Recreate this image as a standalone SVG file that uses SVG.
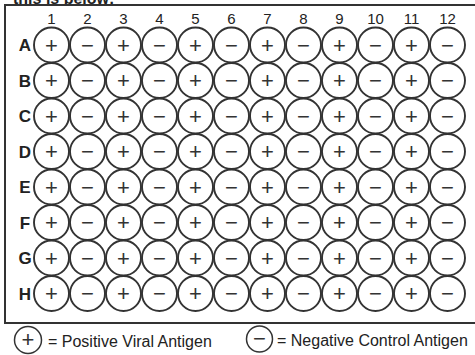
<svg xmlns="http://www.w3.org/2000/svg" width="475" height="355" viewBox="0 0 475 355">
<style>
.w{fill:#fff;stroke:#333;stroke-width:1.9}
.s{font-family:"Liberation Sans",Arial,sans-serif;font-size:22px;fill:#333;text-anchor:middle}
.col{font-family:"Liberation Sans",Arial,sans-serif;font-size:15px;fill:#222;text-anchor:middle}
.row{font-family:"Liberation Sans",Arial,sans-serif;font-size:17px;font-weight:bold;fill:#222;text-anchor:middle}
.lg{font-family:"Liberation Sans",Arial,sans-serif;font-size:16px;fill:#222}
.lc{fill:#fff;stroke:#333;stroke-width:1.5}
</style>
<rect width="475" height="355" fill="#fff"/>
<text x="13" y="4" font-family="Liberation Sans, Arial, sans-serif" font-size="16" font-weight="bold" fill="#222">this is below:</text>
<rect x="5" y="5" width="472" height="318" fill="none" stroke="#333" stroke-width="2"/>
<g id="col-labels">
<text class="col" x="51.5" y="24">1</text><text class="col" x="87.5" y="24">2</text><text class="col" x="123.5" y="24">3</text><text class="col" x="159.5" y="24">4</text><text class="col" x="195.5" y="24">5</text><text class="col" x="231.5" y="24">6</text><text class="col" x="267.5" y="24">7</text><text class="col" x="303.5" y="24">8</text><text class="col" x="339.5" y="24">9</text><text class="col" x="375.5" y="24">10</text><text class="col" x="411.5" y="24">11</text><text class="col" x="447.5" y="24">12</text>
</g>
<g id="row-labels">
<text class="row" x="25" y="51">A</text><text class="row" x="25" y="86.5">B</text><text class="row" x="25" y="122">C</text><text class="row" x="25" y="157.5">D</text><text class="row" x="25" y="193">E</text><text class="row" x="25" y="228.5">F</text><text class="row" x="25" y="264">G</text><text class="row" x="25" y="299.5">H</text>
</g>
<g id="wells">
<g id="A1"><circle class="w" cx="51.5" cy="45" r="17.5"/><text class="s" x="51.5" y="52.5">+</text></g>
<g id="A2"><circle class="w" cx="87.5" cy="45" r="17.5"/><text class="s" x="87.5" y="52.5">−</text></g>
<g id="A3"><circle class="w" cx="123.5" cy="45" r="17.5"/><text class="s" x="123.5" y="52.5">+</text></g>
<g id="A4"><circle class="w" cx="159.5" cy="45" r="17.5"/><text class="s" x="159.5" y="52.5">−</text></g>
<g id="A5"><circle class="w" cx="195.5" cy="45" r="17.5"/><text class="s" x="195.5" y="52.5">+</text></g>
<g id="A6"><circle class="w" cx="231.5" cy="45" r="17.5"/><text class="s" x="231.5" y="52.5">−</text></g>
<g id="A7"><circle class="w" cx="267.5" cy="45" r="17.5"/><text class="s" x="267.5" y="52.5">+</text></g>
<g id="A8"><circle class="w" cx="303.5" cy="45" r="17.5"/><text class="s" x="303.5" y="52.5">−</text></g>
<g id="A9"><circle class="w" cx="339.5" cy="45" r="17.5"/><text class="s" x="339.5" y="52.5">+</text></g>
<g id="A10"><circle class="w" cx="375.5" cy="45" r="17.5"/><text class="s" x="375.5" y="52.5">−</text></g>
<g id="A11"><circle class="w" cx="411.5" cy="45" r="17.5"/><text class="s" x="411.5" y="52.5">+</text></g>
<g id="A12"><circle class="w" cx="447.5" cy="45" r="17.5"/><text class="s" x="447.5" y="52.5">−</text></g>
<g id="B1"><circle class="w" cx="51.5" cy="80.5" r="17.5"/><text class="s" x="51.5" y="88">+</text></g>
<g id="B2"><circle class="w" cx="87.5" cy="80.5" r="17.5"/><text class="s" x="87.5" y="88">−</text></g>
<g id="B3"><circle class="w" cx="123.5" cy="80.5" r="17.5"/><text class="s" x="123.5" y="88">+</text></g>
<g id="B4"><circle class="w" cx="159.5" cy="80.5" r="17.5"/><text class="s" x="159.5" y="88">−</text></g>
<g id="B5"><circle class="w" cx="195.5" cy="80.5" r="17.5"/><text class="s" x="195.5" y="88">+</text></g>
<g id="B6"><circle class="w" cx="231.5" cy="80.5" r="17.5"/><text class="s" x="231.5" y="88">−</text></g>
<g id="B7"><circle class="w" cx="267.5" cy="80.5" r="17.5"/><text class="s" x="267.5" y="88">+</text></g>
<g id="B8"><circle class="w" cx="303.5" cy="80.5" r="17.5"/><text class="s" x="303.5" y="88">−</text></g>
<g id="B9"><circle class="w" cx="339.5" cy="80.5" r="17.5"/><text class="s" x="339.5" y="88">+</text></g>
<g id="B10"><circle class="w" cx="375.5" cy="80.5" r="17.5"/><text class="s" x="375.5" y="88">−</text></g>
<g id="B11"><circle class="w" cx="411.5" cy="80.5" r="17.5"/><text class="s" x="411.5" y="88">+</text></g>
<g id="B12"><circle class="w" cx="447.5" cy="80.5" r="17.5"/><text class="s" x="447.5" y="88">−</text></g>
<g id="C1"><circle class="w" cx="51.5" cy="116" r="17.5"/><text class="s" x="51.5" y="123.5">+</text></g>
<g id="C2"><circle class="w" cx="87.5" cy="116" r="17.5"/><text class="s" x="87.5" y="123.5">−</text></g>
<g id="C3"><circle class="w" cx="123.5" cy="116" r="17.5"/><text class="s" x="123.5" y="123.5">+</text></g>
<g id="C4"><circle class="w" cx="159.5" cy="116" r="17.5"/><text class="s" x="159.5" y="123.5">−</text></g>
<g id="C5"><circle class="w" cx="195.5" cy="116" r="17.5"/><text class="s" x="195.5" y="123.5">+</text></g>
<g id="C6"><circle class="w" cx="231.5" cy="116" r="17.5"/><text class="s" x="231.5" y="123.5">−</text></g>
<g id="C7"><circle class="w" cx="267.5" cy="116" r="17.5"/><text class="s" x="267.5" y="123.5">+</text></g>
<g id="C8"><circle class="w" cx="303.5" cy="116" r="17.5"/><text class="s" x="303.5" y="123.5">−</text></g>
<g id="C9"><circle class="w" cx="339.5" cy="116" r="17.5"/><text class="s" x="339.5" y="123.5">+</text></g>
<g id="C10"><circle class="w" cx="375.5" cy="116" r="17.5"/><text class="s" x="375.5" y="123.5">−</text></g>
<g id="C11"><circle class="w" cx="411.5" cy="116" r="17.5"/><text class="s" x="411.5" y="123.5">+</text></g>
<g id="C12"><circle class="w" cx="447.5" cy="116" r="17.5"/><text class="s" x="447.5" y="123.5">−</text></g>
<g id="D1"><circle class="w" cx="51.5" cy="151.5" r="17.5"/><text class="s" x="51.5" y="159">+</text></g>
<g id="D2"><circle class="w" cx="87.5" cy="151.5" r="17.5"/><text class="s" x="87.5" y="159">−</text></g>
<g id="D3"><circle class="w" cx="123.5" cy="151.5" r="17.5"/><text class="s" x="123.5" y="159">+</text></g>
<g id="D4"><circle class="w" cx="159.5" cy="151.5" r="17.5"/><text class="s" x="159.5" y="159">−</text></g>
<g id="D5"><circle class="w" cx="195.5" cy="151.5" r="17.5"/><text class="s" x="195.5" y="159">+</text></g>
<g id="D6"><circle class="w" cx="231.5" cy="151.5" r="17.5"/><text class="s" x="231.5" y="159">−</text></g>
<g id="D7"><circle class="w" cx="267.5" cy="151.5" r="17.5"/><text class="s" x="267.5" y="159">+</text></g>
<g id="D8"><circle class="w" cx="303.5" cy="151.5" r="17.5"/><text class="s" x="303.5" y="159">−</text></g>
<g id="D9"><circle class="w" cx="339.5" cy="151.5" r="17.5"/><text class="s" x="339.5" y="159">+</text></g>
<g id="D10"><circle class="w" cx="375.5" cy="151.5" r="17.5"/><text class="s" x="375.5" y="159">−</text></g>
<g id="D11"><circle class="w" cx="411.5" cy="151.5" r="17.5"/><text class="s" x="411.5" y="159">+</text></g>
<g id="D12"><circle class="w" cx="447.5" cy="151.5" r="17.5"/><text class="s" x="447.5" y="159">−</text></g>
<g id="E1"><circle class="w" cx="51.5" cy="187" r="17.5"/><text class="s" x="51.5" y="194.5">+</text></g>
<g id="E2"><circle class="w" cx="87.5" cy="187" r="17.5"/><text class="s" x="87.5" y="194.5">−</text></g>
<g id="E3"><circle class="w" cx="123.5" cy="187" r="17.5"/><text class="s" x="123.5" y="194.5">+</text></g>
<g id="E4"><circle class="w" cx="159.5" cy="187" r="17.5"/><text class="s" x="159.5" y="194.5">−</text></g>
<g id="E5"><circle class="w" cx="195.5" cy="187" r="17.5"/><text class="s" x="195.5" y="194.5">+</text></g>
<g id="E6"><circle class="w" cx="231.5" cy="187" r="17.5"/><text class="s" x="231.5" y="194.5">−</text></g>
<g id="E7"><circle class="w" cx="267.5" cy="187" r="17.5"/><text class="s" x="267.5" y="194.5">+</text></g>
<g id="E8"><circle class="w" cx="303.5" cy="187" r="17.5"/><text class="s" x="303.5" y="194.5">−</text></g>
<g id="E9"><circle class="w" cx="339.5" cy="187" r="17.5"/><text class="s" x="339.5" y="194.5">+</text></g>
<g id="E10"><circle class="w" cx="375.5" cy="187" r="17.5"/><text class="s" x="375.5" y="194.5">−</text></g>
<g id="E11"><circle class="w" cx="411.5" cy="187" r="17.5"/><text class="s" x="411.5" y="194.5">+</text></g>
<g id="E12"><circle class="w" cx="447.5" cy="187" r="17.5"/><text class="s" x="447.5" y="194.5">−</text></g>
<g id="F1"><circle class="w" cx="51.5" cy="222.5" r="17.5"/><text class="s" x="51.5" y="230">+</text></g>
<g id="F2"><circle class="w" cx="87.5" cy="222.5" r="17.5"/><text class="s" x="87.5" y="230">−</text></g>
<g id="F3"><circle class="w" cx="123.5" cy="222.5" r="17.5"/><text class="s" x="123.5" y="230">+</text></g>
<g id="F4"><circle class="w" cx="159.5" cy="222.5" r="17.5"/><text class="s" x="159.5" y="230">−</text></g>
<g id="F5"><circle class="w" cx="195.5" cy="222.5" r="17.5"/><text class="s" x="195.5" y="230">+</text></g>
<g id="F6"><circle class="w" cx="231.5" cy="222.5" r="17.5"/><text class="s" x="231.5" y="230">−</text></g>
<g id="F7"><circle class="w" cx="267.5" cy="222.5" r="17.5"/><text class="s" x="267.5" y="230">+</text></g>
<g id="F8"><circle class="w" cx="303.5" cy="222.5" r="17.5"/><text class="s" x="303.5" y="230">−</text></g>
<g id="F9"><circle class="w" cx="339.5" cy="222.5" r="17.5"/><text class="s" x="339.5" y="230">+</text></g>
<g id="F10"><circle class="w" cx="375.5" cy="222.5" r="17.5"/><text class="s" x="375.5" y="230">−</text></g>
<g id="F11"><circle class="w" cx="411.5" cy="222.5" r="17.5"/><text class="s" x="411.5" y="230">+</text></g>
<g id="F12"><circle class="w" cx="447.5" cy="222.5" r="17.5"/><text class="s" x="447.5" y="230">−</text></g>
<g id="G1"><circle class="w" cx="51.5" cy="258" r="17.5"/><text class="s" x="51.5" y="265.5">+</text></g>
<g id="G2"><circle class="w" cx="87.5" cy="258" r="17.5"/><text class="s" x="87.5" y="265.5">−</text></g>
<g id="G3"><circle class="w" cx="123.5" cy="258" r="17.5"/><text class="s" x="123.5" y="265.5">+</text></g>
<g id="G4"><circle class="w" cx="159.5" cy="258" r="17.5"/><text class="s" x="159.5" y="265.5">−</text></g>
<g id="G5"><circle class="w" cx="195.5" cy="258" r="17.5"/><text class="s" x="195.5" y="265.5">+</text></g>
<g id="G6"><circle class="w" cx="231.5" cy="258" r="17.5"/><text class="s" x="231.5" y="265.5">−</text></g>
<g id="G7"><circle class="w" cx="267.5" cy="258" r="17.5"/><text class="s" x="267.5" y="265.5">+</text></g>
<g id="G8"><circle class="w" cx="303.5" cy="258" r="17.5"/><text class="s" x="303.5" y="265.5">−</text></g>
<g id="G9"><circle class="w" cx="339.5" cy="258" r="17.5"/><text class="s" x="339.5" y="265.5">+</text></g>
<g id="G10"><circle class="w" cx="375.5" cy="258" r="17.5"/><text class="s" x="375.5" y="265.5">−</text></g>
<g id="G11"><circle class="w" cx="411.5" cy="258" r="17.5"/><text class="s" x="411.5" y="265.5">+</text></g>
<g id="G12"><circle class="w" cx="447.5" cy="258" r="17.5"/><text class="s" x="447.5" y="265.5">−</text></g>
<g id="H1"><circle class="w" cx="51.5" cy="293.5" r="17.5"/><text class="s" x="51.5" y="301">+</text></g>
<g id="H2"><circle class="w" cx="87.5" cy="293.5" r="17.5"/><text class="s" x="87.5" y="301">−</text></g>
<g id="H3"><circle class="w" cx="123.5" cy="293.5" r="17.5"/><text class="s" x="123.5" y="301">+</text></g>
<g id="H4"><circle class="w" cx="159.5" cy="293.5" r="17.5"/><text class="s" x="159.5" y="301">−</text></g>
<g id="H5"><circle class="w" cx="195.5" cy="293.5" r="17.5"/><text class="s" x="195.5" y="301">+</text></g>
<g id="H6"><circle class="w" cx="231.5" cy="293.5" r="17.5"/><text class="s" x="231.5" y="301">−</text></g>
<g id="H7"><circle class="w" cx="267.5" cy="293.5" r="17.5"/><text class="s" x="267.5" y="301">+</text></g>
<g id="H8"><circle class="w" cx="303.5" cy="293.5" r="17.5"/><text class="s" x="303.5" y="301">−</text></g>
<g id="H9"><circle class="w" cx="339.5" cy="293.5" r="17.5"/><text class="s" x="339.5" y="301">+</text></g>
<g id="H10"><circle class="w" cx="375.5" cy="293.5" r="17.5"/><text class="s" x="375.5" y="301">−</text></g>
<g id="H11"><circle class="w" cx="411.5" cy="293.5" r="17.5"/><text class="s" x="411.5" y="301">+</text></g>
<g id="H12"><circle class="w" cx="447.5" cy="293.5" r="17.5"/><text class="s" x="447.5" y="301">−</text></g>
</g>
<g id="legend-positive">
<circle class="lc" cx="28" cy="340" r="13.5"/><text class="s" x="28" y="346.5" font-size="19">+</text>
<text class="lg" x="48" y="347">= Positive Viral Antigen</text>
</g>
<g id="legend-negative">
<circle class="lc" cx="259.5" cy="339" r="13"/><text class="s" x="259.5" y="345.5" font-size="19">−</text>
<text class="lg" x="277" y="346">= Negative Control Antigen</text>
</g>
</svg>
